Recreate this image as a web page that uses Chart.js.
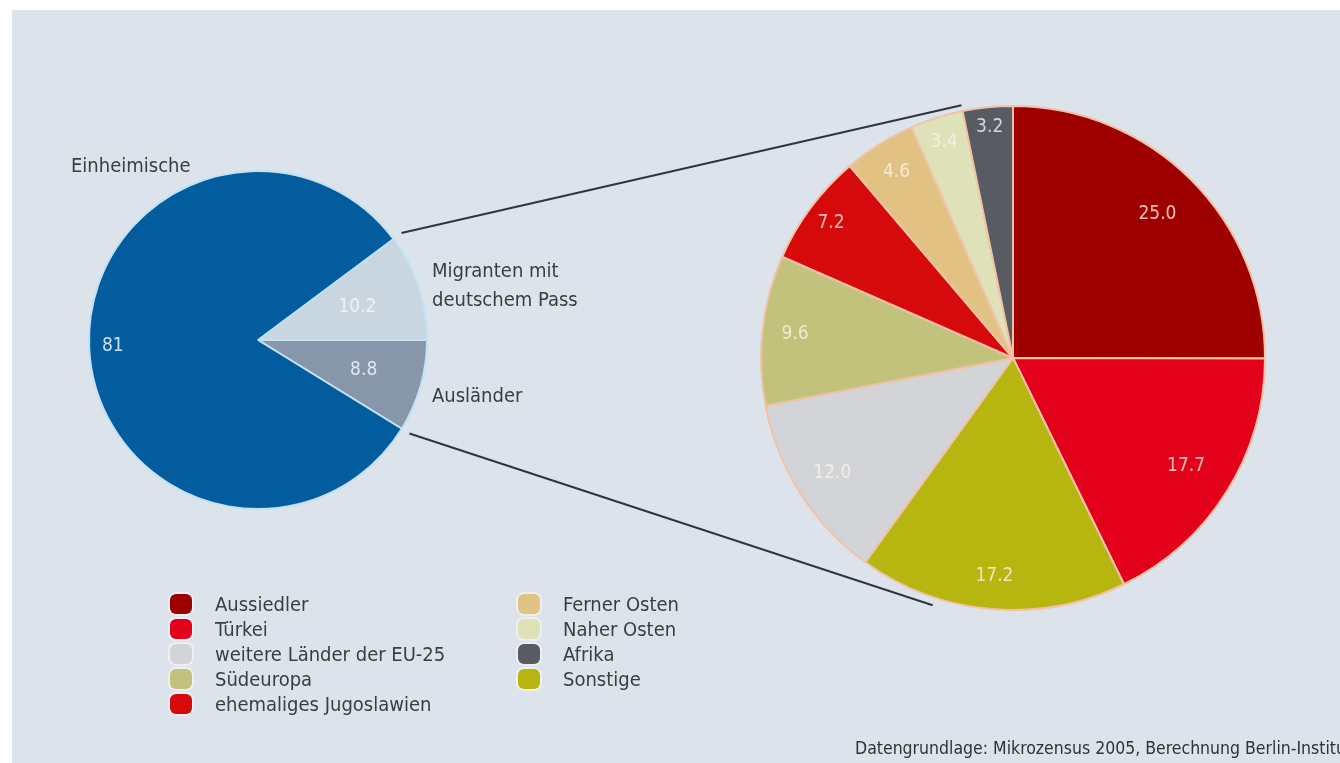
<!DOCTYPE html>
<html lang="de">
<head>
<meta charset="utf-8">
<script src="https://cdn.jsdelivr.net/npm/chart.js@4.4.1/dist/chart.umd.min.js"></script>
<style>
    body {
        margin: 0;
        width: 1340px;
        height: 763px;
        overflow: hidden;
        background: #ffffff;
        font-family: "Liberation Sans Narrow", "DejaVu Sans Condensed", Roboto, sans-serif;
    }
    #panel {
        position: absolute;
        left: 12px;
        top: 10px;
        width: 1328px;
        height: 753px;
        background: #dde3ea;
        overflow: hidden;
    }
    #panel canvas {
        position: absolute;
        left: 0;
        top: 0;
    }
    .legend-col {
        position: absolute;
        top: 581px;
    }
    .legend-item {
        display: flex;
        align-items: center;
        height: 25px;
        font-size: 20px;
        color: #3a3d42;
    }
    .legend-swatch {
        width: 22px;
        height: 20px;
        border-radius: 6px;
        margin-right: 23px;
        box-shadow: 0 0 0 2px rgba(255, 255, 255, 0.45);
    }
    #source {
        position: absolute;
        left: 843px;
        top: 728px;
        font-size: 17.5px;
        line-height: 20px;
        color: #2f3237;
        white-space: nowrap;
    }
</style>
</head>
<body>
<div id="panel">
    <canvas id="overviewChart" width="1328" height="753"></canvas>
    <canvas id="originChart" width="1328" height="753"></canvas>
    <div id="legend"></div>
    <div id="source">Datengrundlage: Mikrozensus 2005, Berechnung Berlin-Institut</div>
</div>
<script>
// Bevölkerung nach Herkunft (in Prozent)
const overviewLabels = [['Migranten mit', 'deutschem Pass'], 'Ausländer', 'Einheimische'];
const overviewValues = [10.2, 8.8, 81];
const overviewColors = ['#c9d6e0', '#8796a8', '#035c9d'];

// Migranten nach Herkunftsregion (in Prozent)
const originLabels = ['Aussiedler', 'Türkei', 'Sonstige', 'weitere Länder der EU-25', 'Südeuropa',
    'ehemaliges Jugoslawien', 'Ferner Osten', 'Naher Osten', 'Afrika'];
const originValues = [25.0, 17.7, 17.2, 12.0, 9.6, 7.2, 4.6, 3.4, 3.2];
const originColors = ['#9e0000', '#e3001b', '#b7b50f', '#d3d4d8', '#c2c27c',
    '#d60a0a', '#e2c283', '#dfe2b8', '#585c62'];

const legendOrder = ['Aussiedler', 'Türkei', 'weitere Länder der EU-25', 'Südeuropa', 'ehemaliges Jugoslawien',
    'Ferner Osten', 'Naher Osten', 'Afrika', 'Sonstige'];

const FONT = '"Liberation Sans Narrow", "DejaVu Sans Condensed", Roboto, sans-serif';

// value labels inside the slices
const sliceValuePlugin = {
    id: 'sliceValues',
    afterDatasetsDraw(chart, args, opts) {
        const ctx = chart.ctx;
        const meta = chart.getDatasetMeta(0);
        const values = chart.data.datasets[0].data;
        ctx.save();
        ctx.font = `19px ${FONT}`;
        ctx.textAlign = 'center';
        ctx.textBaseline = 'middle';
        meta.data.forEach((arc, i) => {
            const mid = (arc.startAngle + arc.endAngle) / 2;
            const r = arc.outerRadius * opts.radius[i];
            ctx.fillStyle = opts.color;
            ctx.fillText(opts.format(values[i]), arc.x + Math.cos(mid) * r, arc.y + Math.sin(mid) * r);
        });
        ctx.restore();
    }
};

// category names around the small pie
const outsideLabelPlugin = {
    id: 'outsideLabels',
    afterDatasetsDraw(chart) {
        const ctx = chart.ctx;
        const meta = chart.getDatasetMeta(0);
        ctx.save();
        ctx.font = `20px ${FONT}`;
        ctx.fillStyle = '#3a3d42';
        ctx.textAlign = 'left';
        ctx.textBaseline = 'middle';
        meta.data.forEach((arc, i) => {
            const label = chart.data.labels[i];
            const lines = Array.isArray(label) ? label : [label];
            let x, y;
            if (i < 2) {
                const mid = (arc.startAngle + arc.endAngle) / 2;
                x = arc.x + arc.outerRadius + 5;
                y = arc.y + Math.sin(mid) * arc.outerRadius + (i === 1 ? 11 : 0);
            } else {
                x = arc.x - arc.outerRadius - 18;
                y = arc.y - arc.outerRadius - 4;
            }
            const lh = 29;
            lines.forEach((line, k) => {
                ctx.fillText(line, x, y + (k - (lines.length - 1) / 2) * lh);
            });
        });
        ctx.restore();
    }
};

const overviewTotal = overviewValues.reduce((a, b) => a + b, 0);

const overviewChart = new Chart(document.getElementById('overviewChart'), {
    type: 'pie',
    data: {
        labels: overviewLabels,
        datasets: [{
            data: overviewValues,
            backgroundColor: overviewColors,
            borderColor: '#bfe2f4',
            borderWidth: 2
        }]
    },
    options: {
        responsive: false,
        animation: false,
        rotation: 90 - overviewValues[0] / overviewTotal * 360,
        layout: { padding: { left: 76, top: 160, right: 912, bottom: 253 } },
        plugins: {
            legend: { display: false },
            tooltip: { enabled: false },
            sliceValues: {
                radius: [0.62, 0.65, 0.86],
                color: 'rgba(240, 247, 252, 0.85)',
                format: v => String(v)
            }
        }
    },
    plugins: [sliceValuePlugin, outsideLabelPlugin]
});

// lines joining the migrant slices to the big pie
const connectorPlugin = {
    id: 'connectors',
    afterDraw(chart) {
        const ctx = chart.ctx;
        const small = overviewChart.getDatasetMeta(0).data;
        const big = chart.getDatasetMeta(0).data;
        const bigArc = big[big.length - 1];
        const pt = (arc, angle, extra) => [
            arc.x + Math.cos(angle) * (arc.outerRadius + extra),
            arc.y + Math.sin(angle) * (arc.outerRadius + extra)
        ];
        const bottomAngle = (198 - 90) * Math.PI / 180;
        const segments = [
            [pt(small[0], small[0].startAngle, 10), pt(bigArc, bigArc.startAngle, 6)],
            [pt(small[1], small[1].endAngle, 9), pt(bigArc, bottomAngle, 8)]
        ];
        ctx.save();
        ctx.strokeStyle = '#2f3540';
        ctx.lineWidth = 2;
        segments.forEach(([a, b]) => {
            ctx.beginPath();
            ctx.moveTo(a[0], a[1]);
            ctx.lineTo(b[0], b[1]);
            ctx.stroke();
        });
        ctx.restore();
    }
};

const originChart = new Chart(document.getElementById('originChart'), {
    type: 'pie',
    data: {
        labels: originLabels,
        datasets: [{
            data: originValues,
            backgroundColor: originColors,
            borderColor: '#f2c2a6',
            borderWidth: 2
        }]
    },
    options: {
        responsive: false,
        animation: false,
        layout: { padding: { left: 748, top: 95, right: 74, bottom: 152 } },
        plugins: {
            legend: { display: false },
            tooltip: { enabled: false },
            sliceValues: {
                radius: [0.81, 0.81, 0.87, 0.85, 0.87, 0.9, 0.87, 0.9, 0.92],
                color: 'rgba(255, 240, 232, 0.8)',
                format: v => v.toFixed(1)
            }
        }
    },
    plugins: [sliceValuePlugin, connectorPlugin]
});

// legend in two columns
const legendEl = document.getElementById('legend');
[legendOrder.slice(0, 5), legendOrder.slice(5)].forEach((names, col) => {
    const colEl = document.createElement('div');
    colEl.className = 'legend-col';
    colEl.style.left = col === 0 ? '158px' : '506px';
    names.forEach(name => {
        const item = document.createElement('div');
        item.className = 'legend-item';
        const sw = document.createElement('span');
        sw.className = 'legend-swatch';
        sw.style.background = originColors[originLabels.indexOf(name)];
        item.appendChild(sw);
        item.appendChild(document.createTextNode(name));
        colEl.appendChild(item);
    });
    legendEl.appendChild(colEl);
});
</script>
</body>
</html>
